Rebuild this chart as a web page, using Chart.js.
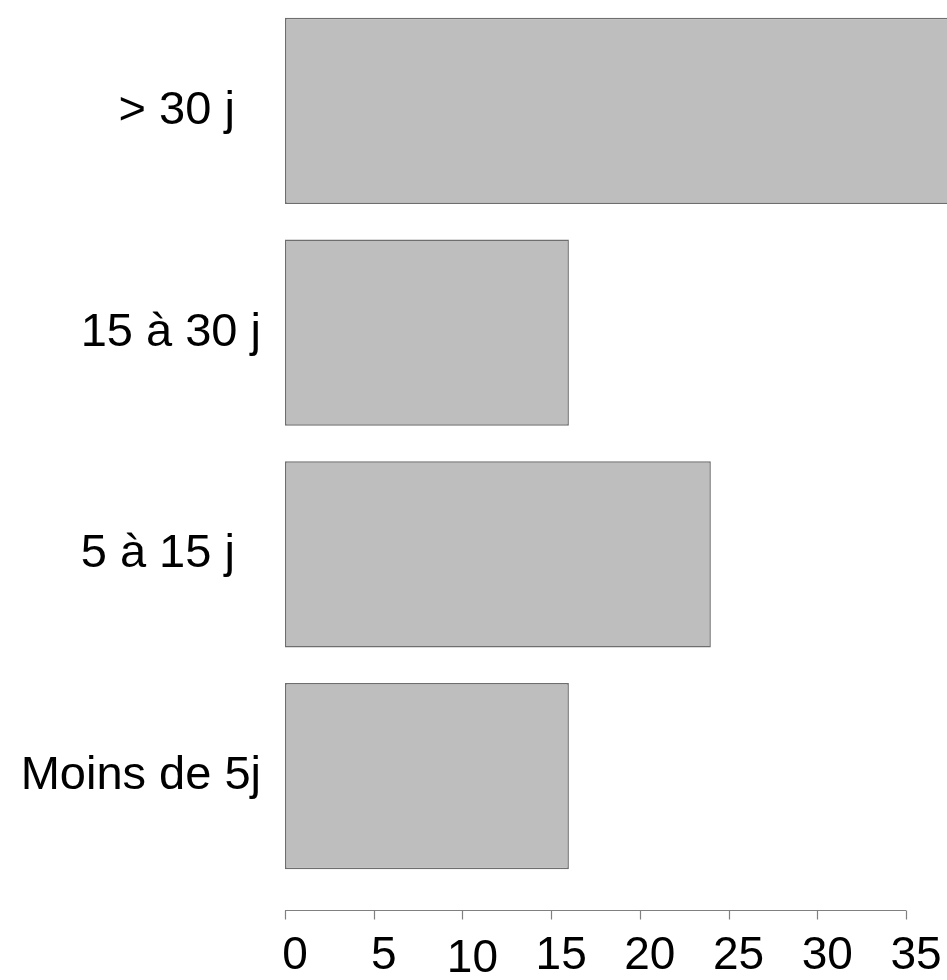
<!DOCTYPE html>
<html>
<head>
<meta charset="utf-8">
<script src="https://cdn.jsdelivr.net/npm/chart.js@4"></script>
<style>
  html, body { margin: 0; padding: 0; background: #ffffff; }
  #wrap { width: 947px; height: 980px; }
</style>
</head>
<body>
<div id="wrap"><canvas id="c" width="947" height="980"></canvas></div>
<script>
// ---- data ----
const categories = ['> 30 j  ', '15 à 30 j', '5 à 15 j  ', 'Moins de 5j'];
const values = [38, 16, 24, 16];
const tickValues = [0, 5, 10, 15, 20, 25, 30, 35];
const tickLabels = ['0', '5', '10', '15', '20', '25', '30', '35'];

const FONT = '"Liberation Sans", Arial, Helvetica, sans-serif';

function zeroPadding(scale) {
  scale.paddingLeft = 0;
  scale.paddingRight = 0;
  scale.paddingTop = 0;
  scale.paddingBottom = 0;
}

// axis line + tick marks drawn below the plot, R-style
const rAxis = {
  id: 'rAxis',
  afterDraw(chart) {
    const x = chart.scales.x;
    const ctx = chart.ctx;
    const y0 = Math.round(chart.chartArea.bottom + 23) + 0.5;
    ctx.save();
    ctx.strokeStyle = '#808080';
    ctx.lineWidth = 1.2;
    ctx.beginPath();
    ctx.moveTo(x.getPixelForValue(tickValues[0]), y0);
    ctx.lineTo(x.getPixelForValue(tickValues[tickValues.length - 1]), y0);
    tickValues.forEach(v => {
      const px = Math.round(x.getPixelForValue(v)) + 0.5;
      ctx.moveTo(px, y0);
      ctx.lineTo(px, y0 + 9);
    });
    ctx.stroke();
    ctx.restore();
  }
};

new Chart(document.getElementById('c'), {
  type: 'bar',
  data: {
    labels: categories,
    datasets: [{
      data: values,
      backgroundColor: '#bebebe',
      borderColor: '#6e6e6e',
      borderWidth: 1.5,
      borderSkipped: false,
      barPercentage: 0.84,
      categoryPercentage: 1.0,
      clip: false
    }]
  },
  options: {
    indexAxis: 'y',
    responsive: false,
    animation: false,
    layout: { padding: { left: 0, right: 41, top: 0, bottom: 0 } },
    plugins: {
      legend: { display: false },
      tooltip: { enabled: false },
      title: { display: false }
    },
    scales: {
      x: {
        type: 'linear',
        min: 0,
        max: 35,
        afterFit(scale) { scale.height = 93; zeroPadding(scale); },
        afterBuildTicks(scale) { scale.ticks = tickValues.map(v => ({ value: v })); },
        grid: { display: false, drawTicks: false },
        border: { display: false },
        ticks: {
          padding: 42,
          labelOffset: 10,
          autoSkip: false,
          maxRotation: 0,
          color: '#000000',
          font: (c) => ({
            family: FONT,
            size: 46,
            lineHeight: (c.tick && c.tick.value === 10) ? '20px' : '55.2px'
          }),
          callback: (v) => {
            const i = tickValues.indexOf(v);
            const lab = i >= 0 ? tickLabels[i] : '';
            return v === 10 ? ['', lab] : lab;
          }
        }
      },
      y: {
        type: 'category',
        afterFit(scale) { scale.width = 285; zeroPadding(scale); },
        grid: { display: false, drawTicks: false },
        border: { display: false },
        ticks: {
          padding: 24,
          color: '#000000',
          font: { family: FONT, size: 47 }
        }
      }
    }
  },
  plugins: [rAxis]
});
</script>
</body>
</html>
